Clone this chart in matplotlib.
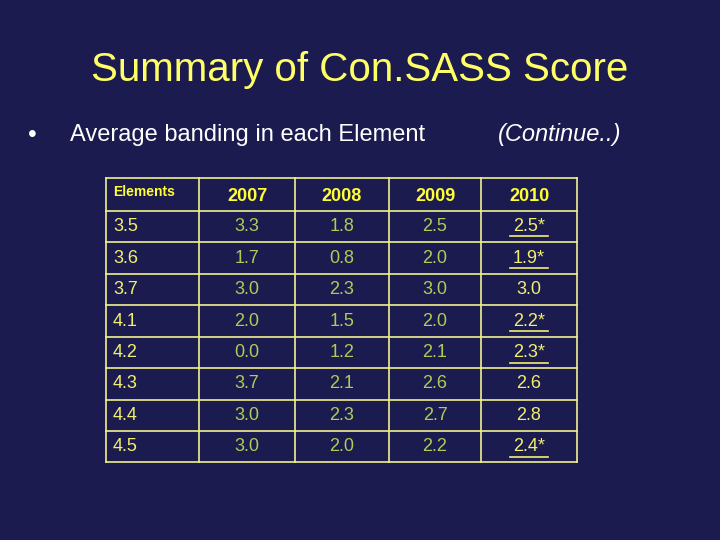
import matplotlib
matplotlib.use("Agg")
import matplotlib.pyplot as plt
from matplotlib.lines import Line2D
from matplotlib import font_manager

years = ["2007", "2008", "2009", "2010"]
elements = ["3.5", "3.6", "3.7", "4.1", "4.2", "4.3", "4.4", "4.5"]
v2007 = ["3.3", "1.7", "3.0", "2.0", "0.0", "3.7", "3.0", "3.0"]
v2008 = ["1.8", "0.8", "2.3", "1.5", "1.2", "2.1", "2.3", "2.0"]
v2009 = ["2.5", "2.0", "3.0", "2.0", "2.1", "2.6", "2.7", "2.2"]
v2010 = ["2.5*", "1.9*", "3.0", "2.2*", "2.3*", "2.6", "2.8", "2.4*"]

fam = "DejaVu Sans"
for f in font_manager.fontManager.ttflist:
    if f.name.lower().startswith("liberation sans") and "narrow" not in f.name.lower():
        fam = f.name
        break

W, H = 720, 540
fig = plt.figure(figsize=(7.2, 5.4), dpi=100)
fig.patch.set_facecolor("#1b1b4f")

def px(x, y):
    return x / W, 1 - y / H

def txt(x, y, s, **kw):
    kw.setdefault("family", fam)
    fig.text(*px(x, y), s, **kw)

txt(360, 70, "Summary of Con.SASS Score", color="#ffff66", fontsize=29,
    ha="center", va="center")
txt(28, 135, "•", color="white", fontsize=18, ha="left", va="center")
txt(70, 135, "Average banding in each Element", color="white", fontsize=17,
    ha="left", va="center")
txt(498, 135, "(Continue..)", color="white", fontsize=17, style="italic",
    ha="left", va="center")

cols = [106, 199, 295, 389, 481, 577]
rows = [178, 211, 242, 274, 305, 337, 368, 400, 431, 462]
lc = "#f0f090"
for x in cols:
    fig.add_artist(Line2D([x / W] * 2, [1 - rows[0] / H, 1 - rows[-1] / H], color=lc, lw=1.2))
for y in rows:
    fig.add_artist(Line2D([cols[0] / W, cols[-1] / W], [1 - y / H] * 2, color=lc, lw=1.2))

yellow = "#ffff33"
green = "#b0cc55"
hy = (rows[0] + rows[1]) / 2
txt(113, hy - 3, "Elements", color=yellow, fontsize=10, weight="bold", ha="left", va="center")
for i, yr in enumerate(years):
    txt((cols[i + 1] + cols[i + 2]) / 2, hy + 2, yr, color=yellow, fontsize=13, weight="bold",
        ha="center", va="center")

series = [v2007, v2008, v2009, v2010]
for r, el in enumerate(elements):
    cy = (rows[r + 1] + rows[r + 2]) / 2
    txt(113, cy, el, color="#f0f070", fontsize=13, ha="left", va="center")
    for c, s in enumerate(series):
        val = s[r]
        cx = (cols[c + 1] + cols[c + 2]) / 2
        if c == 3:
            txt(cx, cy, val, color="#f0f070", fontsize=13, ha="center", va="center")
            if val.endswith("*"):
                fig.add_artist(Line2D([(cx - 19) / W, (cx + 19) / W], [1 - (cy + 10) / H] * 2,
                                      color="#f0f070", lw=1.2))
        else:
            txt(cx, cy, val, color=green, fontsize=13, ha="center", va="center")

fig.savefig("out.png", dpi=100, facecolor=fig.get_facecolor())
